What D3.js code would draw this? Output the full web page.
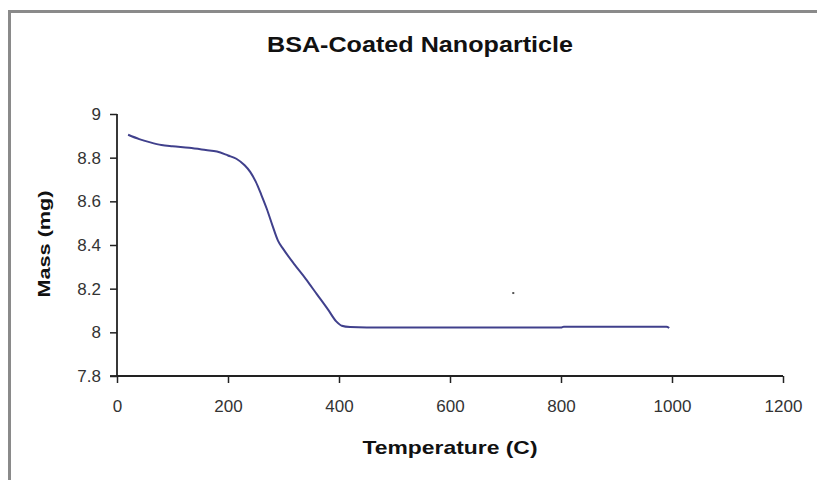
<!DOCTYPE html>
<html>
<head>
<meta charset="utf-8">
<script src="https://cdn.jsdelivr.net/npm/d3@7"></script>
<style>
  html, body { margin: 0; padding: 0; background: #fff; }
  svg { display: block; }
  text { font-family: "Liberation Sans", Arial, sans-serif; }
</style>
</head>
<body>
<svg id="chart" width="817" height="480"></svg>
<script>
// ---- data ----
const chartTitle = "BSA-Coated Nanoparticle";
const xTitle = "Temperature (C)";
const yTitle = "Mass (mg)";
const xTicks = [0, 200, 400, 600, 800, 1000, 1200];
const yTicks = [7.8, 8, 8.2, 8.4, 8.6, 8.8, 9];
const temperature = [20, 40, 60, 80, 100, 130, 160, 180, 200, 215, 230, 240, 250, 260, 270, 280, 290, 300, 320, 340, 360, 380, 395, 405, 420, 450, 520, 600, 700, 800, 805, 900, 990, 995];
const mass =        [8.905, 8.885, 8.87, 8.858, 8.852, 8.845, 8.835, 8.828, 8.81, 8.795, 8.765, 8.735, 8.69, 8.63, 8.565, 8.49, 8.42, 8.38, 8.31, 8.245, 8.175, 8.105, 8.05, 8.03, 8.024, 8.022, 8.022, 8.022, 8.022, 8.022, 8.026, 8.026, 8.026, 8.02];
const strayTemperature = [714];
const strayMass = [8.18];

// ---- layout ----
const svg = d3.select("#chart");
const plot = { left: 117, right: 783, top: 114, bottom: 376 };

svg.append("rect")
  .attr("x", 9.5).attr("y", 11.5)
  .attr("width", 1000).attr("height", 1000)
  .attr("fill", "none").attr("stroke", "#8a8a8a").attr("stroke-width", 3);

const x = d3.scaleLinear().domain([0, 1200]).range([plot.left, plot.right]);
const y = d3.scaleLinear().domain([7.8, 9]).range([plot.bottom, plot.top]);

// axes
const xAxis = d3.axisBottom(x).tickValues(xTicks).tickSize(7).tickPadding(17).tickFormat(d3.format("d"));
const yAxis = d3.axisLeft(y).tickValues(yTicks).tickSize(7).tickPadding(9).tickFormat(d => String(d));

const gx = svg.append("g").attr("transform", `translate(0,${plot.bottom})`).call(xAxis);
const gy = svg.append("g").attr("transform", `translate(${plot.left},0)`).call(yAxis);

[gx, gy].forEach(g => {
  g.select(".domain").attr("stroke", "#222").attr("stroke-width", 1.8);
  g.selectAll(".tick line").attr("stroke", "#222").attr("stroke-width", 1.5);
  g.selectAll(".tick text").attr("fill", "#333").style("font-size", "17px")
    .style("font-family", "'Liberation Sans', Arial, sans-serif");
});
// extend x-axis line left to meet y tick
gx.append("line").attr("x1", plot.left - 7).attr("x2", plot.left).attr("y1", 0).attr("y2", 0)
  .attr("stroke", "#222").attr("stroke-width", 1.8);
gx.select(".domain").attr("d", `M${plot.left},0H${plot.right}`);
gx.selectAll(".tick line").attr("y1", 0);
gy.select(".domain").attr("d", `M0,${plot.top}V${plot.bottom}`);

// line
const pts = temperature.map((t, i) => [t, mass[i]]);
const line = d3.line().x(d => x(d[0])).y(d => y(d[1])).curve(d3.curveMonotoneX);
svg.append("path").datum(pts)
  .attr("d", line)
  .attr("fill", "none")
  .attr("stroke", "#40408c")
  .attr("stroke-width", 2)
  .attr("stroke-linejoin", "round");

// stray point
svg.selectAll(".stray").data(strayTemperature.map((t, i) => [t, strayMass[i]]))
  .enter().append("rect")
  .attr("x", d => x(d[0]) - 1).attr("y", d => y(d[1]) - 1)
  .attr("width", 2).attr("height", 2).attr("fill", "#555");

// titles
svg.append("text").attr("x", 420).attr("y", 52).attr("text-anchor", "middle")
  .attr("textLength", 306).attr("lengthAdjust", "spacingAndGlyphs")
  .style("font-size", "22px").style("font-weight", "bold").attr("fill", "#111")
  .text(chartTitle);

svg.append("text").attr("x", 450).attr("y", 454).attr("text-anchor", "middle")
  .attr("textLength", 175).attr("lengthAdjust", "spacingAndGlyphs")
  .style("font-size", "19px").style("font-weight", "bold").attr("fill", "#111")
  .text(xTitle);

svg.append("text").attr("transform", "translate(50,244) rotate(-90)").attr("text-anchor", "middle")
  .attr("textLength", 107).attr("lengthAdjust", "spacingAndGlyphs")
  .style("font-size", "16px").style("font-weight", "bold").attr("fill", "#111")
  .text(yTitle);
</script>
</body>
</html>
